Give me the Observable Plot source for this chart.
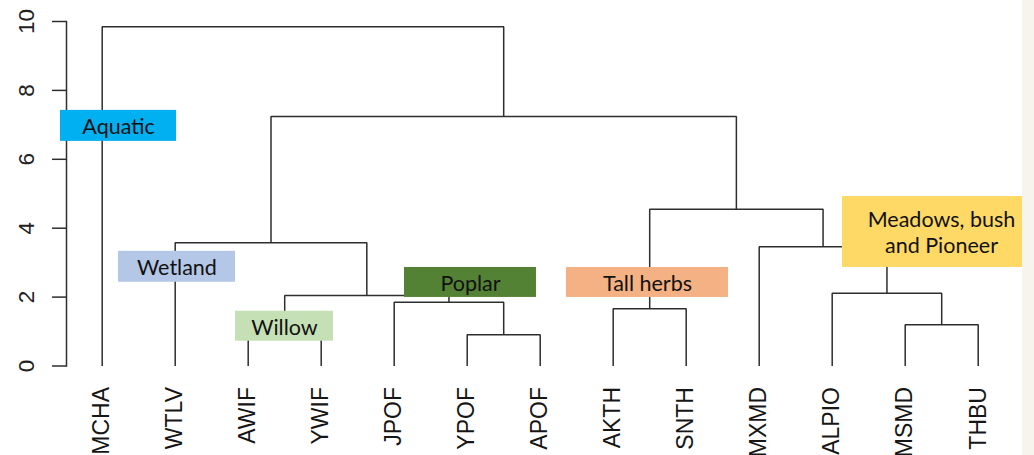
<!DOCTYPE html>
<html><head><meta charset="utf-8">
<script src="https://cdn.jsdelivr.net/npm/d3@7"></script>
<script src="https://cdn.jsdelivr.net/npm/@observablehq/plot@0.6"></script>
<style>
html,body{margin:0;padding:0;}
body{width:1034px;height:455px;overflow:hidden;background:linear-gradient(to right,#ffffff 0,#ffffff 1022px,#f6f4ec 1022px);}
#chart svg{background:transparent !important;}
</style></head><body><div id="chart"></div>
<script>
// leaves in dendrogram order
const leaves = ["MCHA","WTLV","AWIF","YWIF","JPOF","YPOF","APOF","AKTH","SNTH","MXMD","ALPIO","MSMD","THBU"];
// merges: [childA, childB, height]; strings = leaves, numbers = earlier merge index
const merges = [
  ["YPOF","APOF",0.91],   // 0
  ["AWIF","YWIF",1.0],    // 1
  ["MSMD","THBU",1.20],   // 2
  ["AKTH","SNTH",1.66],   // 3
  ["JPOF",0,1.85],        // 4
  [1,4,2.05],             // 5
  ["ALPIO",2,2.11],       // 6
  ["MXMD",6,3.46],        // 7
  ["WTLV",5,3.58],        // 8
  [3,7,4.55],             // 9
  [8,9,7.24],             // 10
  ["MCHA",10,9.85]        // 11
];
const yTicks = [0,2,4,6,8,10];
// annotation boxes (data units)
const groupLabels = ["Aquatic","Wetland","Willow","Poplar","Tall herbs","Meadows, bush\nand Pioneer"];
const groupColors = ["#00b0f0","#b4c7e7","#c5e0b4","#548235","#f4b183","#ffd966"];
const boxX1 = [-0.571,0.223,1.826,4.141,6.360,10.141];
const boxX2 = [1.018,1.826,3.168,5.949,8.579,12.607];
const boxY1 = [6.52,2.43,0.72,1.99,1.99,2.86];
const boxY2 = [7.42,3.33,1.59,2.86,2.86,4.92];
const textX = [null,null,null,null,null,11.497];

const xMin = -0.489;

const pos = {};
leaves.forEach((d,i)=>pos[d]={x:i,h:0});
const nodes = [];
const pts = [];
merges.forEach(([a,b,h],i)=>{
  const A = typeof a==="number" ? nodes[a] : pos[a];
  const B = typeof b==="number" ? nodes[b] : pos[b];
  pts.push({m:i,x:A.x,y:A.h},{m:i,x:A.x,y:h},{m:i,x:B.x,y:h},{m:i,x:B.x,y:B.h});
  nodes.push({x:(A.x+B.x)/2,h});
});
const boxes = groupLabels.map((label,i)=>({
  label, fill: groupColors[i], x1: boxX1[i], x2: boxX2[i], y1: boxY1[i], y2: boxY2[i],
  tx: textX[i] ?? (boxX1[i]+boxX2[i])/2, ty: (boxY1[i]+boxY2[i])/2
}));

const lineColor = "#2e2e2e";
const chart = Plot.plot({
  width: 1034, height: 455,
  marginLeft: 66, marginRight: 56.3, marginTop: 21, marginBottom: 89.5,
  x: {domain: [xMin, 12], axis: null},
  y: {domain: [0, 10], axis: null},
  style: {background: "transparent", color: lineColor},
  marks: [
    Plot.frame({anchor: "left", stroke: lineColor, strokeWidth: 1.5}),
    Plot.axisY({ticks: yTicks, tickSize: 14, tickFormat: () => "", stroke: lineColor, strokeWidth: 1.5, label: null}),
    Plot.text(yTicks, {ariaLabel: "ytick", frameAnchor: "left", y: d=>d, text: d=>String(d), dx: -33, rotate: -90, textAnchor: "middle", lineAnchor: "bottom", fontSize: 22.5, fontFamily: "Liberation Sans, Arial, sans-serif", fill: "#222"}),
    Plot.line(pts, {x: "x", y: "y", z: "m", stroke: lineColor, strokeWidth: 1.5, strokeLinejoin: "miter", strokeLinecap: "butt"}),
    Plot.text(leaves, {ariaLabel: "leaf", x: (d,i)=>i, y: () => 0, text: d=>d, dx: 7.3, dy: 21, rotate: -90, textAnchor: "end", lineAnchor: "bottom", fontSize: 23, fontFamily: "Liberation Sans, Arial, sans-serif", fill: "#161616"}),
    Plot.rect(boxes, {x1: "x1", x2: "x2", y1: "y1", y2: "y2", fill: "fill"}),
    Plot.text(boxes, {x: "tx", y: "ty", text: "label", fontSize: 21.5, lineHeight: 1.22, fontFamily: "Lato, sans-serif", fill: "#111", textAnchor: "middle", lineAnchor: "middle"})
  ]
});
document.getElementById("chart").appendChild(chart);
d3.select(chart).selectAll('g[aria-label="leaf"] text').attr("transform", function(){ return this.getAttribute("transform") + " scale(1,1.18)"; });
d3.select(chart).selectAll('g[aria-label="ytick"] text').attr("transform", function(){ return this.getAttribute("transform") + " scale(1,1.14)"; });
</script></body></html>
